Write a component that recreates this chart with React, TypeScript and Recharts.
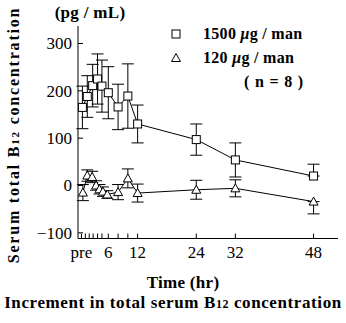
import React from 'react';
import { LineChart, Line, XAxis, YAxis, ErrorBar, Legend } from 'recharts';

const SERIF = '"Liberation Serif", "Times New Roman", serif';

// 1500 ug / man
const hiTime = [0.7, 1.7, 2.8, 3.8, 4.7, 6, 8, 10, 12, 24, 32, 48];
const hiValue = [165, 188, 211, 225, 210, 196, 166, 189, 130, 97, 54, 20];
const hiError: (number | number[])[] = [45, 44, 45, 53, 55, 55, 48, 68, 40, 33, 36, [0, 25]];

// 120 ug / man
const loTime = [0.8, 1.7, 2.7, 3.5, 4.2, 4.9, 5.8, 8, 10, 12, 24, 32, 48];
const loValue = [-15, 21, 18, 0, -8, -13, -19, -14, 15, -16, -9, -6, -34];
const loError: (number | number[])[] = [17, 12, 12, 10, 10, 10, 8, 16, 20, 19, 20, 18, [26, 0]];

const xTicks = [0.5, 1.3, 2.1, 2.9, 3.8, 4.7, 6, 8, 10, 12, 24, 32, 48];
const xTickText = ['pre', '', '', '', '', '', '6', '', '', '12', '24', '32', '48'];
const yTicks = [-100, 0, 100, 200, 300];

const hiData = hiTime.map((t, i) => ({ t, v: hiValue[i], e: hiError[i] }));
const loData = loTime.map((t, i) => ({ t, v: loValue[i], e: loError[i] }));

const TICK_GAP = 6;

const SquareDot = (props: any) => {
  const { cx, cy } = props;
  if (cx == null || cy == null) return null;
  return <rect x={cx - 4} y={cy - 4} width={8} height={8} fill="#fff" stroke="#000" strokeWidth={1} />;
};

const TriangleDot = (props: any) => {
  const { cx, cy } = props;
  if (cx == null || cy == null) return null;
  return (
    <polygon
      points={`${cx},${cy - 4.5} ${cx + 4.5},${cy + 3.5} ${cx - 4.5},${cy + 3.5}`}
      fill="#fff"
      stroke="#000"
      strokeWidth={1}
    />
  );
};

const YTick = (props: any) => {
  const { x, y, payload } = props;
  const ax = x + TICK_GAP;
  return (
    <g>
      <line x1={ax} x2={ax + 5} y1={y} y2={y} stroke="#000" strokeWidth={1} />
      <text x={x} y={y} dy="0.35em" textAnchor="end" fontFamily={SERIF} fontSize={17} fill="#000">
        {payload.value < 0 ? `\u2212${Math.abs(payload.value)}` : payload.value}
      </text>
    </g>
  );
};

const XTick = (props: any) => {
  const { x, y, payload, index } = props;
  const ay = y - TICK_GAP;
  return (
    <g>
      <line x1={x} x2={x} y1={ay} y2={ay - 5} stroke="#000" strokeWidth={1} />
      <text x={x} y={y} dy="0.8em" textAnchor="middle" fontFamily={SERIF} fontSize={17} fill="#000">
        {xTickText[index]}
      </text>
    </g>
  );
};

const legendItems = [
  { marker: 'square', text: '1500 ', unit: ' / man' },
  { marker: 'triangle', text: '120 ', unit: ' / man' },
];

const LegendBox = () => (
  <div style={{ fontFamily: SERIF, fontWeight: 'bold', fontSize: 16, color: '#000', lineHeight: '24px', letterSpacing: 0.3 }}>
    {legendItems.map((it) => (
      <div key={it.text} style={{ display: 'flex', alignItems: 'center' }}>
        <svg width={33} height={24}>
          {it.marker === 'square' ? (
            <rect x={2} y={8} width={8} height={8} fill="#fff" stroke="#000" />
          ) : (
            <polygon points="6,7.5 10.5,15.5 1.5,15.5" fill="#fff" stroke="#000" />
          )}
        </svg>
        <span style={{ whiteSpace: 'pre' }}>
          {it.text}
          <i>&mu;</i>g{it.unit}
        </span>
      </div>
    ))}
    <div style={{ paddingLeft: 74, whiteSpace: 'pre', letterSpacing: 0.8 }}>( n = 8 )</div>
  </div>
);

export default function App() {
  return (
    <div style={{ position: 'absolute', left: 0, top: 0, width: 346, height: 323, background: '#fff' }}>
      <LineChart width={346} height={323} margin={{ top: 26, right: 8, bottom: 0, left: 0 }}>
        <XAxis
          dataKey="t"
          type="number"
          domain={[-0.2, 53]}
          ticks={xTicks}
          interval={0}
          height={84.5}
          tickSize={0}
          tickMargin={TICK_GAP}
          tickLine={false}
          axisLine={{ stroke: '#000', strokeWidth: 1 }}
          tick={<XTick />}
          allowDataOverflow
        />
        <YAxis
          type="number"
          domain={[-112, 337]}
          ticks={yTicks}
          interval={0}
          width={78}
          tickSize={0}
          tickMargin={TICK_GAP}
          tickLine={false}
          axisLine={{ stroke: '#000', strokeWidth: 1 }}
          tick={<YTick />}
          allowDataOverflow
        />
        <Legend
          layout="vertical"
          align="center"
          verticalAlign="middle"
          content={<LegendBox />}
          wrapperStyle={{ top: 22, left: 170, width: 170 }}
        />
        <Line
          data={hiData}
          dataKey="v"
          stroke="#000"
          strokeWidth={1}
          dot={<SquareDot />}
          activeDot={false}
          isAnimationActive={false}
        >
          <ErrorBar dataKey="e" width={6} stroke="#000" strokeWidth={1} direction="y" />
        </Line>
        <Line
          data={loData}
          dataKey="v"
          stroke="#000"
          strokeWidth={1}
          dot={<TriangleDot />}
          activeDot={false}
          isAnimationActive={false}
        >
          <ErrorBar dataKey="e" width={6} stroke="#000" strokeWidth={1} direction="y" />
        </Line>
      </LineChart>
      <div
        style={{
          position: 'absolute', left: 30, top: 2, width: 120, textAlign: 'center',
          fontFamily: SERIF, fontWeight: 'bold', fontSize: 17, lineHeight: '22px', letterSpacing: 0.3,
        }}
      >
        (pg / mL)
      </div>
      <div
        style={{
          position: 'absolute', left: 14 - 130, top: 135 - 11, width: 260, height: 22, lineHeight: '22px',
          textAlign: 'center', transform: 'rotate(-90deg)',
          fontFamily: SERIF, fontWeight: 'bold', fontSize: 16, letterSpacing: 1.8, whiteSpace: 'nowrap',
        }}
      >
        Serum total B<span style={{ fontSize: 11 }}>12</span> concentration
      </div>
      <div
        style={{
          position: 'absolute', left: 100, top: 272, width: 166, textAlign: 'center',
          fontFamily: SERIF, fontWeight: 'bold', fontSize: 17, lineHeight: '22px', letterSpacing: 0.3,
        }}
      >
        Time (hr)
      </div>
      <div
        style={{
          position: 'absolute', left: 0, top: 292, width: 346, textAlign: 'center',
          fontFamily: SERIF, fontWeight: 'bold', fontSize: 17, lineHeight: '22px', letterSpacing: 0.6,
          whiteSpace: 'nowrap',
        }}
      >
        Increment in total serum B<span style={{ fontSize: 12 }}>12</span> concentration
      </div>
    </div>
  );
}
